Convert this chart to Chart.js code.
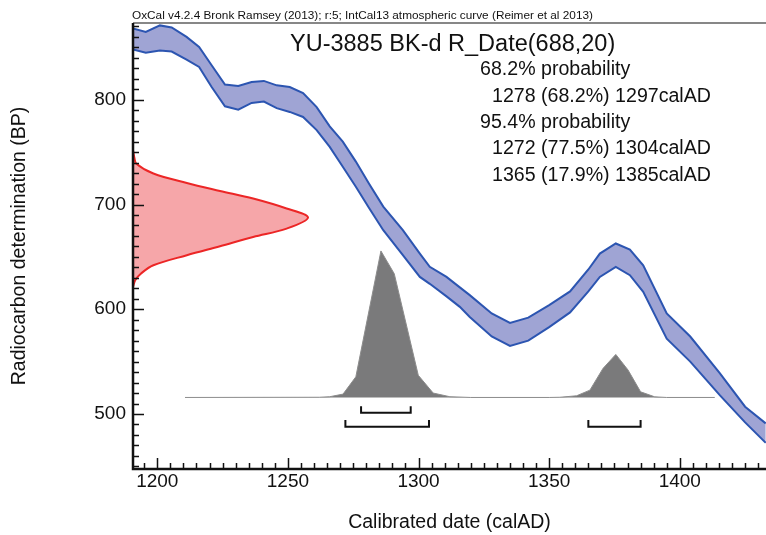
<!DOCTYPE html>
<html>
<head>
<meta charset="utf-8">
<script src="https://cdn.jsdelivr.net/npm/chart.js@4.4.1/dist/chart.umd.min.js"></script>
<style>
  html, body { margin: 0; padding: 0; background: #fff; }
  #wrap { width: 766px; height: 535px; }
</style>
</head>
<body>
<div id="wrap"><canvas id="calChart" width="766" height="535"></canvas></div>
<script>
// calibration curve (IntCal13), upper and lower edge of the 1 sigma band
var curveYears = [1190.7, 1195.6, 1201, 1205.5, 1211.2, 1216, 1220.8, 1225.9, 1231, 1236.1, 1240.8, 1245.7, 1250.7, 1255.8, 1261, 1266, 1271, 1276, 1281, 1286.5, 1294, 1300.5, 1304.3, 1310.7, 1315.8, 1319.6, 1328, 1335, 1342, 1350, 1358, 1365, 1369.4, 1375.5, 1380.9, 1386, 1395, 1404, 1415.3, 1425, 1432.9];
var curveUpper = [868, 864.7, 871, 869, 860, 850.4, 833, 814.5, 813.2, 817, 818, 813.8, 812.2, 806.5, 793, 774.7, 760, 741, 720, 698, 675.5, 653.2, 640.5, 630.9, 620.9, 613.5, 596, 587, 592, 604, 617, 638, 653.2, 662.8, 657, 642, 596, 574, 539, 507, 491];
var curveLower = [848, 845, 847, 846, 838.4, 831.3, 812.2, 793.8, 790.6, 797, 798.3, 792, 788.4, 783.6, 771, 755, 736, 717, 697, 675.5, 651.6, 630.9, 624.3, 612.3, 602.3, 592.7, 574, 565, 570, 583, 597, 617, 630.9, 640.5, 632.5, 616.6, 572, 550, 518, 492, 472.5];

// radiocarbon measurement 688 +/- 20 BP, drawn against the y axis
var dateBP = [751.8, 745, 739, 729.6, 720.6, 713, 705.7, 696.2, 687.6, 677, 669, 660.2, 651.6, 642, 634, 628, 621.4];
var dateYears = [1190.7, 1191.2, 1192, 1198.5, 1211.3, 1224, 1236.7, 1249.5, 1257.7, 1249.5, 1236.7, 1224, 1211.3, 1198.5, 1193.7, 1191.6, 1190.7];

// calibrated probability distribution
var probYears = [1210.6, 1262, 1266, 1271.1, 1276, 1285.6, 1290.7, 1299.9, 1305.6, 1312, 1320, 1350, 1354.1, 1360.5, 1365.6, 1370.6, 1375.5, 1380.2, 1385, 1390.4, 1395, 1413.4];
var probBP = [515.8, 516, 516.5, 519, 535.5, 655.7, 634, 537, 520, 516.5, 515.8, 515.8, 516, 517.4, 522.8, 543.5, 556.9, 542, 521.2, 516.4, 515.8, 515.8];
var probBase = 515.8;

// ranges
var range68 = [[1278, 1297]];
var range95 = [[1272, 1304], [1365, 1385]];
var range68BP = [507.5, 501.1];
var range95BP = [494.2, 487.8];

var xTicks = [1200, 1250, 1300, 1350, 1400];
var yTicks = [500, 600, 700, 800];

var infoLines = ["68.2% probability", "1278 (68.2%) 1297calAD", "95.4% probability", "1272 (77.5%) 1304calAD", "1365 (17.9%) 1385calAD"];

var FONT = '"Liberation Sans", Arial, sans-serif';

function pts(xs, ys) {
	var out = [];
	for (var i = 0; i < xs.length; i++) out.push({x: xs[i], y: ys[i]});
	return out;
}

function bracket(r, bp) {
	return [{x: r[0], y: bp[0]}, {x: r[0], y: bp[1]}, {x: r[1], y: bp[1]}, {x: r[1], y: bp[0]}];
}

var datasets = [
	{
		label: 'upper', data: pts(curveYears, curveUpper),
		borderColor: '#2c55b1', borderWidth: 2, pointRadius: 0, fill: false, tension: 0
	},
	{
		label: 'lower', data: pts(curveYears, curveLower),
		borderColor: '#2c55b1', borderWidth: 2, pointRadius: 0, fill: '-1',
		backgroundColor: '#9fa4d4', tension: 0
	},
	{
		label: 'date', data: pts(dateYears, dateBP),
		borderColor: '#ec2626', borderWidth: 2, pointRadius: 0, fill: 'shape',
		backgroundColor: '#f6a6a9', tension: 0.35
	},
	{
		label: 'prob', data: pts(probYears, probBP),
		borderColor: '#8c8c8c', borderWidth: 1, pointRadius: 0,
		fill: {value: probBase}, backgroundColor: '#7a7a7b', tension: 0
	}
];

range68.forEach(function(r) {
	datasets.push({data: bracket(r, range68BP), borderColor: '#111', borderWidth: 2, pointRadius: 0, fill: false, tension: 0});
});
range95.forEach(function(r) {
	datasets.push({data: bracket(r, range95BP), borderColor: '#111', borderWidth: 2, pointRadius: 0, fill: false, tension: 0});
});

// inward ticks, top border and the text block
var oxcalDecor = {
	id: 'oxcalDecor',
	afterDraw: function(chart) {
		var ctx = chart.ctx, a = chart.chartArea, x = chart.scales.x, y = chart.scales.y;
		ctx.save();
		ctx.strokeStyle = '#111';
		ctx.lineWidth = 1.5;
		ctx.beginPath();
		for (var v = 1195; v <= x.max; v += 5) {
			var px = Math.round(x.getPixelForValue(v)) + 0.5;
			var len = (v % 50 === 0) ? 11 : 6;
			ctx.moveTo(px, a.bottom);
			ctx.lineTo(px, a.bottom - len);
		}
		for (var b = 450; b <= y.max; b += 10) {
			var py = Math.round(y.getPixelForValue(b)) + 0.5;
			var l2 = (b % 100 === 0) ? 11 : 6;
			ctx.moveTo(a.left, py);
			ctx.lineTo(a.left + l2, py);
		}
		ctx.stroke();

		// axis lines
		ctx.lineWidth = 2.5;
		ctx.beginPath();
		ctx.moveTo(a.left, a.top);
		ctx.lineTo(a.left, a.bottom);
		ctx.lineTo(a.right, a.bottom);
		ctx.stroke();
		ctx.lineWidth = 1.2;
		ctx.beginPath();
		ctx.moveTo(a.left, a.top);
		ctx.lineTo(a.right, a.top);
		ctx.stroke();

		ctx.fillStyle = '#111';
		ctx.textBaseline = 'alphabetic';
		ctx.textAlign = 'left';
		ctx.font = '11.8px ' + FONT;
		ctx.fillText('OxCal v4.2.4 Bronk Ramsey (2013); r:5; IntCal13 atmospheric curve (Reimer et al 2013)', 132, 19);

		ctx.font = '23.5px ' + FONT;
		ctx.fillText('YU-3885 BK-d R_Date(688,20)', 290, 51);

		ctx.font = '19.6px ' + FONT;
		var rows = [75, 102, 128, 154, 181];
		for (var i = 0; i < infoLines.length; i++) {
			var indent = (i === 0 || i === 2) ? 480 : 492;
			ctx.fillText(infoLines[i], indent, rows[i]);
		}
		ctx.restore();
	}
};

var options = {
	responsive: false,
	animation: false,
	layout: { padding: { top: 23, left: 0, right: 0, bottom: 0 } },
	plugins: { legend: { display: false }, tooltip: { enabled: false } },
	scales: {
		x: {
			type: 'linear', min: 1190.7, max: 1433,
			afterBuildTicks: function(scale) { scale.ticks = xTicks.map(function(v) { return {value: v}; }); },
			afterFit: function(scale) { scale.height = 66; },
			grid: { display: false, drawTicks: false },
			border: { display: false },
			ticks: { color: '#111', padding: 1, maxRotation: 0, font: { family: FONT, size: 19 },
				callback: function(value) { return String(value); } },
			title: { display: true, text: 'Calibrated date (calAD)', color: '#111', padding: { top: 0, bottom: 1 },
				font: { family: FONT, size: 19.5 } }
		},
		y: {
			type: 'linear', min: 447.5, max: 873.3,
			afterBuildTicks: function(scale) { scale.ticks = yTicks.map(function(v) { return {value: v}; }); },
			afterFit: function(scale) { scale.width = 133; },
			grid: { display: false, drawTicks: false },
			border: { display: false },
			ticks: { color: '#111', padding: 7, font: { family: FONT, size: 19 },
				callback: function(value) { return String(value); } },
			title: { display: true, text: 'Radiocarbon determination (BP)', color: '#111', padding: { top: 8, bottom: 0 },
				font: { family: FONT, size: 19.5 } }
		}
	}
};

var ctx = document.getElementById('calChart');
var calChart = new Chart(ctx, {
	type: 'line',
	data: { datasets: datasets },
	options: options,
	plugins: [oxcalDecor]
});
</script>
</body>
</html>
